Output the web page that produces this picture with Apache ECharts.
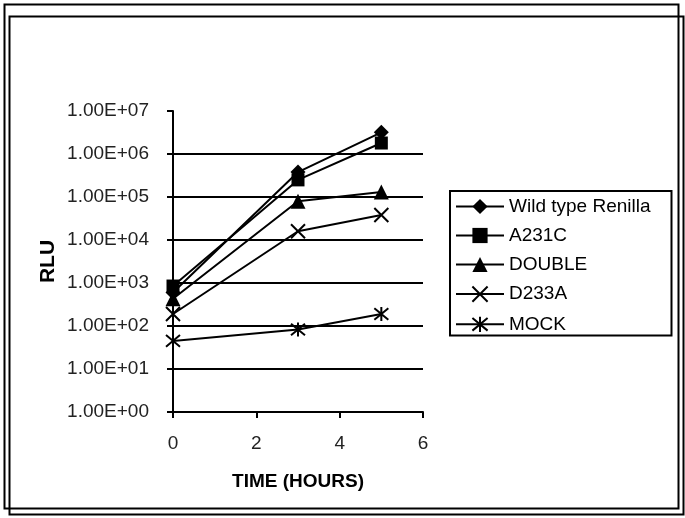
<!DOCTYPE html>
<html><head><meta charset="utf-8">
<script src="https://cdn.jsdelivr.net/npm/echarts@6/dist/echarts.min.js"></script>
<style>html,body{margin:0;padding:0;background:#fff}#c{width:685px;height:518px}</style>
</head><body><div id="c"></div>
<script>
const times = [0, 3, 5];
const seriesNames = ['Wild type Renilla', 'A231C', 'DOUBLE', 'D233A', 'MOCK'];
const wildType = [600, 380000, 3200000];
const a231c = [850, 250000, 1800000];
const double = [430, 80000, 130000];
const d233a = [190, 16000, 38000];
const mock = [45, 83, 190];
const xTicks = [0, 2, 4, 6];

const FONT = 'Liberation Sans, Arial, sans-serif';
const crossPath = 'path://M0,0 L10,10 M10,0 L0,10';
const starPath = 'path://M0,0 L10,10 M10,0 L0,10 M5,-1 L5,11';
const symbols = ['diamond', 'rect', 'triangle', crossPath, starPath];
const sizes = [15, 13, 15, 14, 14];
const values = [wildType, a231c, double, d233a, mock];

const chart = echarts.init(document.getElementById('c'), null, {renderer: 'canvas'});
const series = seriesNames.map((n, i) => ({
  name: n, type: 'line',
  data: times.map((t, j) => [t, values[i][j]]),
  symbol: symbols[i], symbolSize: sizes[i],
  showAllSymbol: true,
  lineStyle: {color: '#000', width: 2},
  itemStyle: i >= 3 ? {color: 'none', borderColor: '#000', borderWidth: 2} : {color: '#000', borderColor: '#000', borderWidth: 0},
  emphasis: {disabled: true},
  animation: false, z: 5
}));

chart.setOption({
  animation: false,
  backgroundColor: '#fff',
  graphic: [
    {type: 'rect', shape: {x: 9.5, y: 16.5, width: 674, height: 498}, style: {fill: 'none', stroke: '#000', lineWidth: 2}, z: 0},
    {type: 'rect', shape: {x: 4.5, y: 4.5, width: 674, height: 504}, style: {fill: 'none', stroke: '#000', lineWidth: 2}, z: 0}
  ],
  grid: {left: 173, top: 111, width: 250, height: 301},
  legend: {
    data: seriesNames,
    orient: 'vertical', left: 450, top: 191,
    itemGap: 10, itemWidth: 48, itemHeight: 19,
    textStyle: {fontFamily: FONT, fontSize: 19, color: '#000'},
    borderColor: '#000', borderWidth: 2, padding: [6, 21, 1, 5],
    backgroundColor: '#fff'
  },
  xAxis: {
    type: 'value', min: 0, max: 6, interval: 2,
    name: 'TIME (HOURS)', nameLocation: 'middle', nameGap: 60,
    nameTextStyle: {fontFamily: FONT, fontSize: 19, fontWeight: 'bold', color: '#000'},
    axisLine: {lineStyle: {color: '#000', width: 2}},
    axisTick: {show: true, length: 6, lineStyle: {color: '#000', width: 2}},
    axisLabel: {fontFamily: FONT, fontSize: 19, color: '#222', margin: 22},
    splitLine: {show: false}
  },
  yAxis: {
    type: 'log', logBase: 10, min: 1, max: 10000000,
    name: 'RLU', nameLocation: 'middle', nameRotate: 90, nameGap: 114,
    nameTextStyle: {fontFamily: FONT, fontSize: 21, fontWeight: 'bold', color: '#000'},
    axisLine: {show: true, lineStyle: {color: '#000', width: 2}},
    axisTick: {show: true, length: 6, lineStyle: {color: '#000', width: 2}},
    axisLabel: {
      fontFamily: FONT, fontSize: 19, color: '#222', margin: 24,
      formatter: v => '1.00E+' + String(Math.round(Math.log10(v))).padStart(2, '0')
    },
    splitLine: {show: true, lineStyle: {color: '#000', width: 2}, showMinLine: false, showMaxLine: false}
  },
  series: series
});
</script></body></html>
